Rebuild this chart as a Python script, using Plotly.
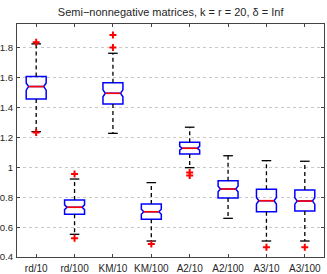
import plotly.graph_objects as go

categories = ["rd/10", "rd/100", "KM/10", "KM/100", "A2/10", "A2/100", "A3/10", "A3/100"]
q1 = [1.458, 0.686, 1.425, 0.652, 1.090, 0.795, 0.703, 0.708]
median = [1.541, 0.733, 1.496, 0.703, 1.128, 0.855, 0.777, 0.775]
q3 = [1.608, 0.782, 1.567, 0.755, 1.168, 0.911, 0.853, 0.849]
lower_whisker = [1.239, 0.552, 1.228, 0.507, 0.998, 0.659, 0.507, 0.507]
upper_whisker = [1.827, 0.922, 1.764, 0.898, 1.269, 1.078, 1.045, 1.041]
notch_half = [0.024, 0.016, 0.023, 0.017, 0.013, 0.019, 0.022, 0.021]
outliers = [
    [1.838, 1.233],
    [0.956, 0.525],
    [1.887, 1.802],
    [0.487],
    [0.965, 0.945],
    [],
    [0.465],
    [0.465],
]
y_ticks = [0.4, 0.6, 0.8, 1.0, 1.2, 1.4, 1.6, 1.8]
y_tick_text = ["0.4", "0.6", "0.8", "1", "1.2", "1.4", "1.6", "1.8"]

xs = list(range(1, len(categories) + 1))
BOX_W = 0.52
NOTCH_W = 0.12
CAP_W = 0.25

fig = go.Figure()

# whiskers (dashed black)
wx, wy = [], []
for i, x in enumerate(xs):
    wx += [x, x, None, x, x, None]
    wy += [q3[i], upper_whisker[i], None, q1[i], lower_whisker[i], None]
fig.add_trace(go.Scatter(x=wx, y=wy, mode="lines",
                         line=dict(color="black", width=1.3, dash="4px,3px"),
                         hoverinfo="skip", showlegend=False))
# caps
cx, cy = [], []
for i, x in enumerate(xs):
    for v in (upper_whisker[i], lower_whisker[i]):
        cx += [x - CAP_W / 2, x + CAP_W / 2, None]
        cy += [v, v, None]
fig.add_trace(go.Scatter(x=cx, y=cy, mode="lines",
                         line=dict(color="black", width=1.3),
                         hoverinfo="skip", showlegend=False))

# notched boxes
fig.add_trace(go.Box(
    x=xs, q1=q1, median=median, q3=q3,
    lowerfence=q1, upperfence=q3,
    notchspan=notch_half, notched=True, notchwidth=NOTCH_W,
    width=BOX_W, whiskerwidth=0, boxpoints=False,
    line=dict(color="#0000ff", width=1.5),
    fillcolor="rgba(0,0,0,0)", showlegend=False,
))

# medians (red)
mx, my = [], []
half_inner = BOX_W / 2 * (1 - 2 * NOTCH_W)
for i, x in enumerate(xs):
    mx += [x - half_inner, x + half_inner, None]
    my += [median[i], median[i], None]
fig.add_trace(go.Scatter(x=mx, y=my, mode="lines",
                         line=dict(color="#ff0000", width=1.6),
                         hoverinfo="skip", showlegend=False))

# outliers
ox, oy = [], []
for i, x in enumerate(xs):
    for v in outliers[i]:
        ox.append(x)
        oy.append(v)
fig.add_trace(go.Scatter(x=ox, y=oy, mode="markers",
                         marker=dict(symbol="cross-thin", size=5, color="#ff0000",
                                     line=dict(width=2, color="#ff0000")),
                         hoverinfo="skip", showlegend=False))

fig.update_layout(
    width=327, height=274,
    margin=dict(l=17, r=3, t=24, b=17),
    plot_bgcolor="white", paper_bgcolor="white",
    font=dict(family="Liberation Sans, Arial, sans-serif", size=10, color="#262626"),
    title=dict(text="Semi\u2212nonnegative matrices, k = r = 20, \u03b4 = Inf",
               x=0.522, xanchor="center", y=0.955, yanchor="middle",
               font=dict(size=11, color="#262626")),
    showlegend=False,
)
fig.update_xaxes(range=[0.5, 8.5], tickvals=xs, ticktext=categories,
                 ticks="inside", ticklen=3, tickcolor="#444",
                 showline=True, linecolor="#444", linewidth=1, mirror="ticks",
                 showgrid=False, zeroline=False, ticklabelstandoff=2,
                 automargin=False)
fig.update_yaxes(range=[0.4, 1.96], tickvals=y_ticks, ticktext=y_tick_text,
                 ticks="inside", ticklen=3, tickcolor="#444",
                 showline=True, linecolor="#444", linewidth=1, mirror="ticks",
                 showgrid=True, gridcolor="#c8c8c8", griddash="dot", gridwidth=1,
                 zeroline=False, ticklabelstandoff=1, automargin=False,
                 tickfont=dict(size=9.6))

fig.write_html("out.html",
               config={"displayModeBar": False},
               post_script="document.body.style.margin='0';document.body.style.padding='0';")
